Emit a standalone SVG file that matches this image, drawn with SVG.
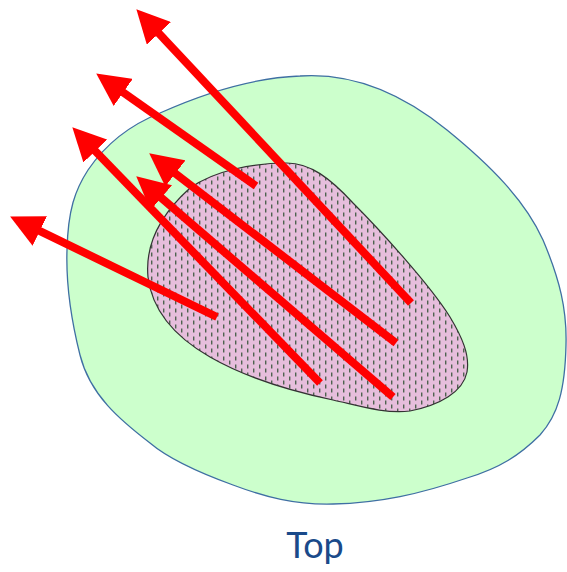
<svg xmlns="http://www.w3.org/2000/svg" width="567" height="572" viewBox="0 0 567 572">
  <style>
    .outer { fill: #CCFFCC; stroke: #3F6FA3; stroke-width: 1.3; }
    .inner { fill: url(#dash); stroke: #333333; stroke-width: 1.2; }
    .arrow { stroke: #FF0000; stroke-width: 8; fill: none; marker-end: url(#head); }
    .label { font-family: Lato, "Open Sans", "Liberation Sans", sans-serif; font-size: 36px; fill: #1A4A8A; }
  </style>
  <defs>
    <pattern id="dash" patternUnits="userSpaceOnUse" width="12" height="8">
      <rect width="12" height="8" fill="#E6BEDC"/>
      <rect x="1" y="0.5" width="1.4" height="4" fill="#4F6350"/>
      <rect x="7" y="4.5" width="1.4" height="3.5" fill="#4F6350"/>
      <rect x="7" y="0" width="1.4" height="0.5" fill="#4F6350"/>
    </pattern>
    <marker id="head" markerUnits="userSpaceOnUse" markerWidth="33" markerHeight="33" refX="6" refY="16.5" orient="auto" viewBox="0 0 33 33">
      <path d="M0,0 L33,16.5 L0,33 Z" fill="#FF0000"/>
    </marker>
  </defs>
  <g id="outer-region">
    <path class="outer" d="M300,76 C360,72 410,100 447,130 C490,165 525,200 543,240 C560,280 567,310 566,345 C565,390 558,415 540,435 C520,455 500,468 467,478 C420,494 380,503 333,504 C295,505 265,497 233,485 C200,473 170,460 150,443 C120,420 90,395 80,355 C70,315 66,280 67,250 C68,210 75,190 88,170 C105,145 130,125 160,113 C200,95 250,78 300,76 Z"/>
  </g>
  <g id="inner-region">
    <path class="inner" d="M287,163 C310,163 330,178 353,203 C380,230 430,285 450,317 C462,337 470,355 467,372 C463,392 440,405 410,411 C385,414 360,406 333,400 C300,393 250,380 210,357 C175,337 152,310 148,277 C145,245 160,215 190,188 C215,170 255,163 287,163 Z"/>
  </g>
  <g id="connectors">
    <line class="arrow" x1="411" y1="303" x2="154.8" y2="29"/>
    <line class="arrow" x1="256" y1="186" x2="118.3" y2="89"/>
    <line class="arrow" x1="320" y1="383" x2="91.1" y2="146.7"/>
    <line class="arrow" x1="396" y1="343" x2="170.6" y2="169.8"/>
    <line class="arrow" x1="393" y1="397" x2="156.7" y2="193.9"/>
    <line class="arrow" x1="217" y1="317" x2="34.4" y2="228.4"/>
  </g>
  <g id="caption">
    <text class="label" x="315" y="558" text-anchor="middle">Top</text>
  </g>
</svg>
